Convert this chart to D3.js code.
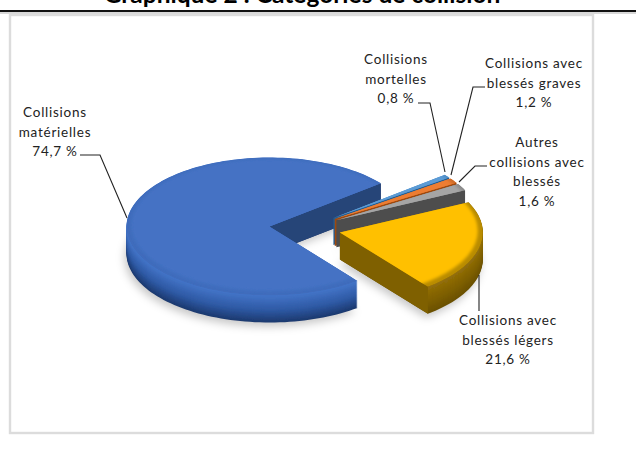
<!DOCTYPE html>
<html lang="fr">
<head>
<meta charset="utf-8">
<script src="https://cdn.jsdelivr.net/npm/d3@7"></script>
<style>
  html, body { margin: 0; padding: 0; background: #fff; }
  svg { display: block; }
  text { font-family: Lato, "Open Sans", sans-serif; fill: #222; }
</style>
</head>
<body>
<svg id="chart" width="636" height="449"></svg>
<script>
const chartTitle = "Graphique 2 : Catégories de collision";
const categories = ["Collisions matérielles", "Collisions mortelles", "Collisions avec blessés graves", "Autres collisions avec blessés", "Collisions avec blessés légers"];
const shares = [74.7, 0.8, 1.2, 1.6, 21.6];
const shareLabels = ["74,7 %", "0,8 %", "1,2 %", "1,6 %", "21,6 %"];

const topColors = ["#4472c4", "#5b9bd5", "#ed7d31", "#a5a5a5", "#ffc000"];
const cutColors = ["#264478", "#255e91", "#9e480e", "#4d4d4d", "#7f6000"];
const wallRamps = [
  ["#4475c8", "#2f5aa5", "#1d3a70"],
  ["#5b9bd5", "#3a78ad", "#255e91"],
  ["#ed7d31", "#b85f20", "#9e480e"],
  ["#8a8a8a", "#5c5c5c", "#4a4a4a"],
  ["#94700a", "#7f6000", "#6b5100"]
];
const bevelColors = ["#3f6cbc", "#4f8cc4", "#c96a28", "#8a8a8a", "#b98c00"];

// label lines, centre x and first baseline
const labelLines = [
  ["Collisions", "matérielles", "74,7 %"],
  ["Collisions", "mortelles", "0,8 %"],
  ["Collisions avec", "blessés graves", "1,2 %"],
  ["Autres", "collisions avec", "blessés", "1,6 %"],
  ["Collisions avec", "blessés légers", "21,6 %"]
];
const labelAnchors = [[55, 117], [396, 64], [534, 68], [537, 147], [508, 325]];
const leaders = [
  [[80, 155], [100, 155], [127, 218]],
  [[418, 103], [430, 103], [445, 172]],
  [[485, 87], [473, 87], [451, 175]],
  [[487, 166], [475, 166], [459, 182]],
  [[479, 275], [479, 311]]
];

const svg = d3.select("#chart");
const defs = svg.append("defs");

const deg = Math.PI / 180;
const startAngle = 142 * deg;
const explode = 0.25;
const depth = 27;
const rx = 143;
const ry = 69;

// unit circle -> flattened ellipse on the page
const xScale = d3.scaleLinear().domain([-1, 1]).range([305 - rx, 305 + rx]);
const yScale = d3.scaleLinear().domain([-1, 1]).range([228.5 - ry, 228.5 + ry]);

const arcs = d3.pie().sort(null).startAngle(startAngle).endAngle(startAngle + 2 * Math.PI)(shares);

function sectorPoints(a, radius) {
  const mid = (a.startAngle + a.endAngle) / 2;
  const ox = explode * Math.sin(mid);
  const oy = -explode * Math.cos(mid);
  const steps = Math.max(4, Math.ceil((a.endAngle - a.startAngle) / (2 * deg)));
  const rim = d3.range(steps + 1).map((i) => {
    const t = a.startAngle + (a.endAngle - a.startAngle) * i / steps;
    return [ox + radius * Math.sin(t), oy - radius * Math.cos(t)];
  });
  return [[ox, oy]].concat(rim);
}

const unitLine = d3.line().x((p) => xScale(p[0])).y((p) => yScale(p[1]));
const sectorPath = (a, radius) => unitLine(sectorPoints(a, radius)) + "Z";

defs.append("filter").attr("id", "soft").attr("x", "-5%").attr("y", "-5%").attr("width", "110%").attr("height", "110%")
  .append("feGaussianBlur").attr("stdDeviation", 0.7);
defs.append("filter").attr("id", "shadowBlur").attr("x", "-10%").attr("y", "-10%").attr("width", "120%").attr("height", "120%")
  .append("feGaussianBlur").attr("stdDeviation", 4);
defs.append("filter").attr("id", "bevelBlur").attr("x", "-10%").attr("y", "-10%").attr("width", "120%").attr("height", "120%")
  .append("feGaussianBlur").attr("stdDeviation", 1.8);

// page rule and frame
svg.append("text").attr("x", 302).attr("y", 3)
  .attr("text-anchor", "middle").attr("font-size", 24.5).attr("font-weight", 700)
  .style("fill", "#000").text(chartTitle);
svg.append("rect").attr("x", 0).attr("y", 12).attr("width", 636).attr("height", 2).attr("fill", "#d8d8d8");
svg.append("rect").attr("x", 0).attr("y", 10).attr("width", 636).attr("height", 2).attr("fill", "#111");
svg.append("rect").attr("x", 10).attr("y", 15).attr("width", 583).attr("height", 418)
  .attr("fill", "#fff").attr("stroke", "#dcdcdc").attr("stroke-width", 2.4);

// soft shadow under the pie
svg.append("g").attr("filter", "url(#shadowBlur)").attr("transform", `translate(-2,${depth + 4})`)
  .selectAll("path").data(arcs).join("path")
  .attr("d", (a) => sectorPath(a, 1))
  .attr("fill", "#000").attr("opacity", 0.22);

const pie = svg.append("g").attr("filter", "url(#soft)");
const layers = d3.range(depth, -1, -1);

const slices = pie.selectAll("g.slice").data(arcs).join("g").attr("class", "slice");

slices.each(function (a, i) {
  const g = d3.select(this);
  const ramp = d3.scaleLinear().domain([0, depth * 0.55, depth]).range(wallRamps[i]);

  // wall: the sector repeated downwards
  g.selectAll("path.wall").data(layers).join("path")
    .attr("class", "wall")
    .attr("d", sectorPath(a, 1))
    .attr("transform", (dz) => `translate(0,${dz})`)
    .attr("fill", (dz) => ramp(dz));

  // flat cut face, only the one that looks at the viewer
  const pts = sectorPoints(a, 1);
  const apex = pts[0];
  const rimEnd = pts[pts.length - 1];
  const corners = [[xScale(apex[0]), yScale(apex[1])], [xScale(rimEnd[0]), yScale(rimEnd[1])]];
  g.append("path")
    .attr("d", d3.line()([corners[0], corners[1], [corners[1][0], corners[1][1] + depth], [corners[0][0], corners[0][1] + depth]]) + "Z")
    .attr("fill", cutColors[i]);

  // top face with a soft bevel along the rim
  const clipId = "clip" + i;
  defs.append("clipPath").attr("id", clipId).append("path").attr("d", sectorPath(a, 1));
  const top = g.append("g").attr("clip-path", `url(#${clipId})`);
  top.append("path").attr("d", sectorPath(a, 1)).attr("fill", bevelColors[i]);
  top.append("ellipse")
    .attr("cx", xScale(pts[0][0])).attr("cy", yScale(pts[0][1]) - 1.5)
    .attr("rx", rx - 5).attr("ry", ry - 3)
    .attr("fill", topColors[i]).attr("filter", "url(#bevelBlur)");
});

// leader lines
svg.append("g").selectAll("path").data(leaders).join("path")
  .attr("d", (l) => d3.line()(l))
  .attr("fill", "none").attr("stroke", "#222").attr("stroke-width", 1.1);

// labels
const labels = svg.append("g").selectAll("text").data(labelLines).join("text")
  .attr("text-anchor", "middle").attr("font-size", 13.5).attr("letter-spacing", 0.75);
labels.selectAll("tspan").data((d, i) => d.map((s) => ({ s, i }))).join("tspan")
  .attr("x", (d) => labelAnchors[d.i][0])
  .attr("y", (d, k) => labelAnchors[d.i][1] + k * 19.6)
  .text((d) => d.s);
</script>
</body>
</html>
